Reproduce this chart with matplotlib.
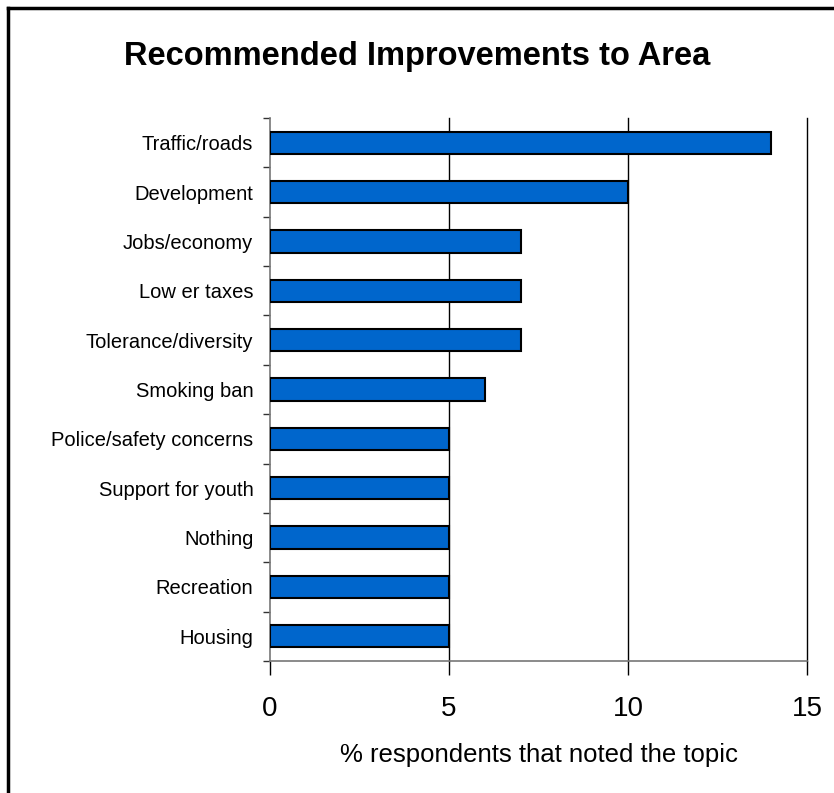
import matplotlib
matplotlib.use("Agg")
import matplotlib.pyplot as plt
from matplotlib.lines import Line2D
import numpy as np

categories = ["Traffic/roads", "Development", "Jobs/economy", "Low er taxes",
              "Tolerance/diversity", "Smoking ban", "Police/safety concerns",
              "Support for youth", "Nothing", "Recreation", "Housing"]
values = [14, 10, 7, 7, 7, 6, 5, 5, 5, 5, 5]
xticks = [0, 5, 10, 15]

plt.rcParams['font.family'] = ['Liberation Sans', 'DejaVu Sans']

fig = plt.figure(figsize=(8.34, 7.93), dpi=100)
ax = fig.add_axes([270/834, 1-661/793, 537/834, 543/793])

n = len(categories)
y = np.arange(n)[::-1]
ax.barh(y, values, height=0.45, color='#0066CC', edgecolor='black', linewidth=1.5, zorder=3)

ax.set_ylim(-0.5, n-0.5)
ax.set_xlim(0, 15)
ax.set_yticks(y)
ax.set_yticklabels(categories, fontsize=14.5)
ax.set_yticks(np.arange(-0.5, n, 1.0), minor=True)
ax.tick_params(axis='y', which='major', length=0, pad=12)
ax.tick_params(axis='y', which='minor', length=5, width=1, color='#333333', direction='out')

ax.set_xticks(xticks)
ax.set_xticklabels([str(v) for v in xticks], fontsize=20)
ax.tick_params(axis='x', length=10, width=1, color='black', direction='out', pad=15)
for v in xticks[1:]:
    ax.axvline(v, color='black', linewidth=1, zorder=1, clip_on=False)

for s in ['top', 'right']:
    ax.spines[s].set_visible(False)
ax.spines['left'].set_color('#777777')
ax.spines['bottom'].set_color('#777777')
ax.spines['left'].set_linewidth(1.2)
ax.spines['bottom'].set_linewidth(1.2)

ax.set_xlabel("% respondents that noted the topic", fontsize=18.5, labelpad=15)

fig.text(0.5, 1-56/793, "Recommended Improvements to Area", ha='center', va='center',
         fontsize=23.5, fontweight='bold')

# figure border (top and left visible)
fig.add_artist(Line2D([8/834, 1.0], [1-8/793, 1-8/793], transform=fig.transFigure, color='black', linewidth=2.5))
fig.add_artist(Line2D([8/834, 8/834], [0.0, 1-8/793], transform=fig.transFigure, color='black', linewidth=2.5))

fig.savefig("out.png", dpi=100)
